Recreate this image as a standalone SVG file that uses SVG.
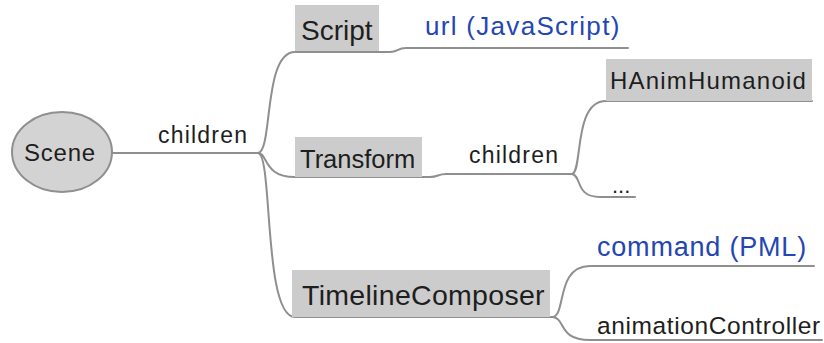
<svg xmlns="http://www.w3.org/2000/svg" width="824" height="343" viewBox="0 0 824 343">
  <style>
    .edge { fill: none; stroke: #8f8f8f; stroke-width: 2; stroke-linecap: round; }
    .box { fill: #cccccc; }
    .t { font-family: "Liberation Sans", Arial, sans-serif; fill: #1e1e1e; }
    .link { font-family: "Liberation Sans", Arial, sans-serif; fill: #2446b4; }
  </style>
  <rect width="824" height="343" fill="#ffffff"/>

  <!-- connectors -->
  <g id="connectors">
    <path class="edge" d="M112,153 L258,153"/>
    <!-- to Script and its url attribute -->
    <path class="edge" d="M258,153 C273,152 263,52 295,52 L390,52 C398,52 397,48 406,48 L628,48"/>
    <!-- to Transform and its children -->
    <path class="edge" d="M258,153 C268,153 263,177 295,177 L430,177 C438,177 438,174 446,174 L572,174"/>
    <!-- to TimelineComposer -->
    <path class="edge" d="M258,153 C273,154 263,317 295,317 L553,317"/>
    <!-- Transform children -->
    <path class="edge" d="M572,174 C583,172 573,101 606,101 L812,101"/>
    <path class="edge" d="M572,174 C582,176 575,197 600,197 L635,197"/>
    <!-- TimelineComposer fields -->
    <path class="edge" d="M553,317 C566,315 556,266 590,266 L814,266"/>
    <path class="edge" d="M553,317 C566,319 558,340 590,340 L822,340"/>
    <text class="t" x="158" y="143" font-size="23" letter-spacing="1.2">children</text>
    <text class="t" x="469" y="163" font-size="23" letter-spacing="1.2">children</text>
  </g>

  <g id="scene">
    <ellipse cx="62" cy="152" rx="50" ry="40" fill="#d3d3d3" stroke="#8f8f8f" stroke-width="2"/>
    <text class="t" x="60" y="161" font-size="24" letter-spacing="0.8" text-anchor="middle">Scene</text>
  </g>

  <g id="script">
    <rect class="box" x="295" y="5" width="84" height="46"/>
    <text class="t" x="301" y="40" font-size="28">Script</text>
  </g>
  <g id="script-url">
    <text class="link" x="425" y="35" font-size="26" letter-spacing="1.3">url (JavaScript)</text>
  </g>

  <g id="transform">
    <rect class="box" x="295" y="137" width="127" height="40"/>
    <text class="t" x="300" y="168" font-size="25.5">Transform</text>
  </g>

  <g id="hanim-humanoid">
    <rect class="box" x="606" y="59" width="206" height="42"/>
    <text class="t" x="610" y="89" font-size="24" letter-spacing="1.2">HAnimHumanoid</text>
  </g>

  <g id="more-children">
    <text class="t" x="612" y="193" font-size="22">...</text>
  </g>

  <g id="timeline-composer">
    <rect class="box" x="292" y="270" width="258" height="47"/>
    <text class="t" x="302" y="305" font-size="28.5" letter-spacing="0.3">TimelineComposer</text>
  </g>
  <g id="command">
    <text class="link" x="597" y="256" font-size="27" letter-spacing="0.8">command (PML)</text>
  </g>
  <g id="animation-controller">
    <text class="t" x="597" y="334" font-size="24.5" letter-spacing="0.6">animationController</text>
  </g>
</svg>
